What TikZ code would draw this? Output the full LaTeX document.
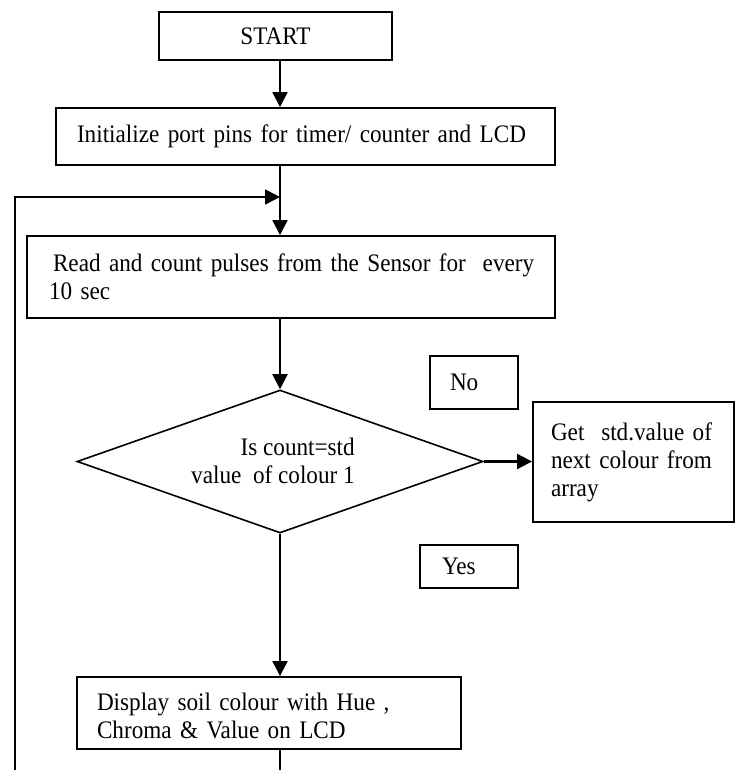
\documentclass[tikz,border=0pt]{standalone}
\usepackage{fontspec}
\setmainfont[FakeStretch=0.92]{Liberation Serif}
\usetikzlibrary{shapes.geometric,arrows.meta}
\begin{document}
\begin{tikzpicture}[x=1pt,y=-1pt,
  every node/.style={font=\fontsize{25.2}{28}\selectfont},
  box/.style={draw,line width=1.9pt,inner ysep=0pt,align=left,anchor=center},
  arr/.style={line width=2.1pt,-{Triangle[width=15pt,length=15pt]}},
  ln/.style={line width=2.1pt}]
\useasboundingbox (0,0) rectangle (735,770);
% boxes
\node[box,align=center,minimum width=233pt,minimum height=48pt,text width=213pt,inner xsep=10pt] (start) at (275.5,36) {START};
\node[box,minimum width=499pt,minimum height=57pt,text width=457pt,inner xsep=21pt] (init) at (305.5,136.5) {\mbox{Initialize port pins for timer/ counter and LCD}};
\node[box,minimum width=528pt,minimum height=82pt,text width=484pt,inner xsep=22pt] (read) at (291,277) {\mbox{\hspace{4pt}Read and count pulses from the Sensor for\ \ every}\\\mbox{10 sec}};
\node[draw,diamond,line width=1.6pt,minimum width=406pt,minimum height=143pt,inner sep=0pt] (dia) at (280,461.5) {};
\node[align=right,inner sep=0pt] (dtext) at (273,461) {Is count=std\\\mbox{value\ \ of colour 1}};
\node[box,minimum width=88pt,minimum height=53pt,text width=48pt,inner xsep=20pt] (no) at (474,382.5) {No};
\node[box,minimum width=201pt,minimum height=120pt,text width=165pt,inner xsep=18pt] (get) at (633.5,462) {\mbox{Get\ \ std.value of}\\\mbox{next colour from}\\\mbox{array}\\[6pt]};
\node[box,minimum width=98pt,minimum height=43pt,text width=54pt,inner xsep=22pt] (yes) at (469,566.5) {Yes};
\node[box,minimum width=384pt,minimum height=72pt,text width=344pt,inner xsep=20pt] (disp) at (269,713) {\rule{0pt}{24pt}\mbox{Display soil colour with Hue ,}\\\mbox{Chroma \& Value on LCD}};
% coordinates
\coordinate (j) at (280,197);
\coordinate (lb) at (15,770);
\coordinate (db) at (280,770);
% connectors
\draw[arr] (start.south -| j) -- (init.north -| j);
\draw[arr] (init.south -| j) -- (read.north -| j);
\draw[arr,line width=1.7pt] (lb) |- (j);
\draw[arr] (read.south -| j) -- (dia.north);
\draw[arr] (dia.east) -- (get.west |- dia.east);
\draw[arr] (dia.south) -- (disp.north -| dia.south);
\draw[ln] (disp.south -| db) -- (db);
\end{tikzpicture}
\end{document}
